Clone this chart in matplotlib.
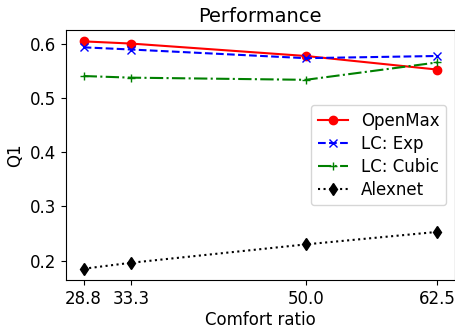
import matplotlib
matplotlib.use("Agg")
import matplotlib.pyplot as plt

ratios = [28.8, 33.3, 50.0, 62.5]
openmax = [0.605, 0.601, 0.578, 0.553]
lc_exp = [0.594, 0.590, 0.574, 0.578]
lc_cubic = [0.541, 0.538, 0.534, 0.566]
alexnet = [0.185, 0.196, 0.230, 0.253]

plt.rcParams.update({'font.size': 12})

fig = plt.figure(figsize=(4.55, 3.28), dpi=100)
ax = fig.add_axes([0.145, 0.146, 0.854, 0.7625])

ax.plot(ratios, openmax, 'r-o', label='OpenMax')
ax.plot(ratios, lc_exp, 'b--x', label='LC: Exp')
ax.plot(ratios, lc_cubic, 'g-.+', label='LC: Cubic')
ax.plot(ratios, alexnet, 'k:d', label='Alexnet')

ax.set_xticks(ratios)
ax.set_xticklabels(['28.8', '33.3', '50.0', '62.5'])
ax.set_xlabel('Comfort ratio', labelpad=2)
ax.set_ylabel('Q1')
ax.set_title('Performance', fontsize=14)
ax.legend(loc='center right', fontsize=12, labelspacing=0.3,
          handlelength=1.8)

fig.savefig('out.png', dpi=100)
